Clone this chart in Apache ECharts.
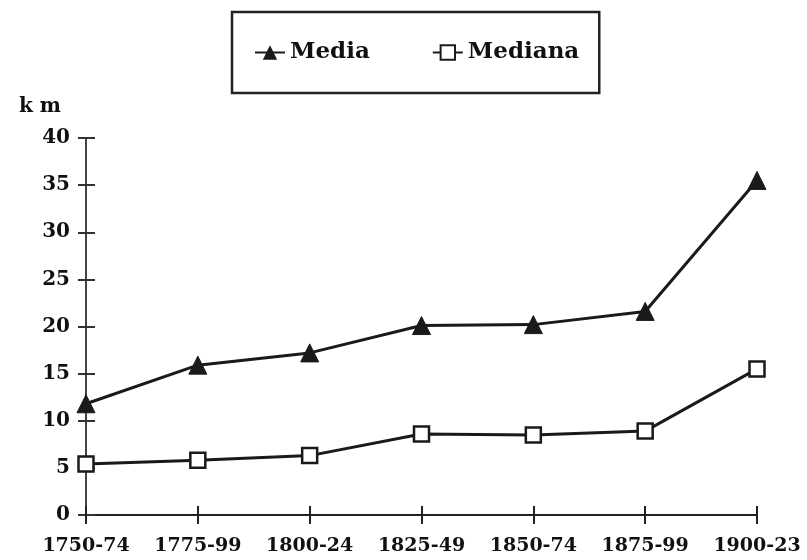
<!DOCTYPE html>
<html>
<head>
<meta charset="utf-8">
<script src="https://cdn.jsdelivr.net/npm/echarts@6/dist/echarts.min.js"></script>
<style>
  html, body { margin: 0; padding: 0; background: #fff; }
  #chart { width: 807px; height: 560px; }
</style>
</head>
<body>
<div id="chart"></div>
<script>
// periodi sull'asse x
const periods = ['1750-74', '1775-99', '1800-24', '1825-49', '1850-74', '1875-99', '1900-23'];
// valori in km
const mediaValues = [11.8, 15.9, 17.2, 20.1, 20.2, 21.6, 35.5];
const medianaValues = [5.4, 5.8, 6.3, 8.6, 8.5, 8.9, 15.5];
const yMin = 0;
const yMax = 40;
const yStep = 5;

const font = 'DejaVu Serif';
const ink = '#111';

const chart = echarts.init(document.getElementById('chart'));

const option = {
    backgroundColor: '#fff',
    animation: false,
    title: {
        text: 'k m',
        left: 14,
        top: 92,
        textStyle: { fontFamily: font, fontSize: 20, fontWeight: 'bold', color: ink }
    },
    legend: {
        left: 232,
        top: 12,
        padding: [29, 20, 29, 22],
        itemGap: 62,
        itemWidth: 30,
        itemHeight: 18,
        borderColor: '#222',
        borderWidth: 2.5,
        textStyle: { fontFamily: font, fontSize: 23, fontWeight: 'bold', color: ink },
        data: ['Media', 'Mediana']
    },
    grid: {
        left: 86,
        right: 50,
        top: 138,
        bottom: 45,
        containLabel: false
    },
    xAxis: [{
        type: 'category',
        data: periods,
        boundaryGap: false,
        axisLine: { lineStyle: { color: '#222', width: 2 } },
        axisTick: { show: true, interval: 0, length: 9, lineStyle: { color: '#222', width: 2 } },
        axisLabel: { interval: 0, hideOverlap: false, fontFamily: font, fontSize: 19, fontWeight: 'bold', color: ink, margin: 22 }
    }, {
        type: 'category',
        data: periods,
        boundaryGap: false,
        position: 'bottom',
        axisLine: { show: false },
        axisTick: { show: true, interval: 0, inside: true, length: 9, lineStyle: { color: '#222', width: 2 } },
        axisLabel: { show: false }
    }],
    yAxis: [{
        type: 'value',
        min: yMin,
        max: yMax,
        interval: yStep,
        axisLine: { show: true, lineStyle: { color: '#444', width: 2 } },
        axisTick: { show: true, length: 8, lineStyle: { color: '#333', width: 2 } },
        axisLabel: { fontFamily: font, fontSize: 20, fontWeight: 'bold', color: ink, margin: 16 },
        splitLine: { show: false }
    }, {
        type: 'value',
        min: yMin,
        max: yMax,
        interval: yStep,
        position: 'left',
        axisLine: { show: false },
        axisTick: { show: true, inside: true, length: 9, lineStyle: { color: '#333', width: 2 } },
        axisLabel: { show: false },
        splitLine: { show: false }
    }],
    series: [
        {
            name: 'Media',
            type: 'line',
            data: mediaValues,
            symbol: 'triangle',
            symbolSize: 18,
            lineStyle: { color: '#1a1a1a', width: 3 },
            itemStyle: { color: '#1a1a1a', borderColor: '#1a1a1a' }
        },
        {
            name: 'Mediana',
            type: 'line',
            data: medianaValues,
            symbol: 'rect',
            symbolSize: 15,
            lineStyle: { color: '#1a1a1a', width: 3 },
            itemStyle: { color: '#fff', borderColor: '#1a1a1a', borderWidth: 2.5 }
        }
    ]
};

chart.setOption(option);
</script>
</body>
</html>
